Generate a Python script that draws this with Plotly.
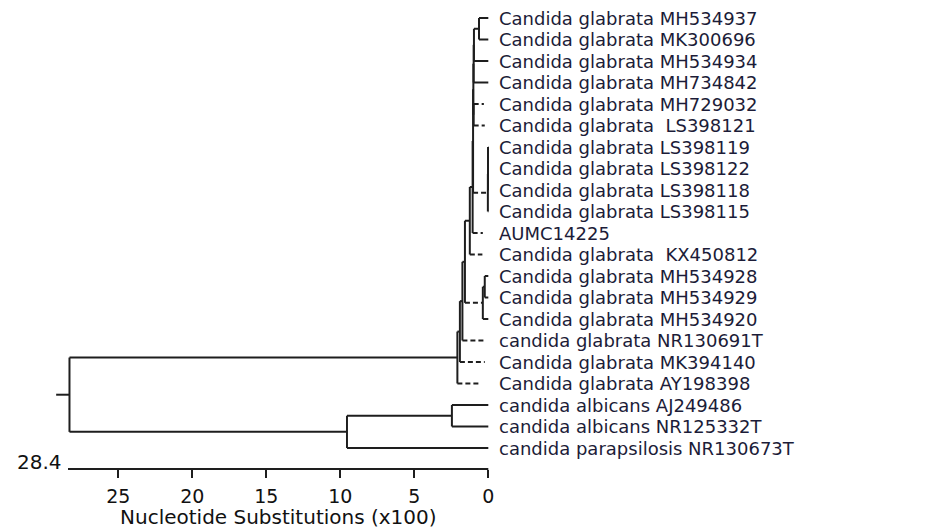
import plotly.graph_objects as go

# ---------------- data ----------------
labels = [
    "Candida glabrata MH534937", "Candida glabrata MK300696", "Candida glabrata MH534934",
    "Candida glabrata MH734842", "Candida glabrata MH729032", "Candida glabrata  LS398121",
    "Candida glabrata LS398119", "Candida glabrata LS398122", "Candida glabrata LS398118",
    "Candida glabrata LS398115", "AUMC14225", "Candida glabrata  KX450812",
    "Candida glabrata MH534928", "Candida glabrata MH534929", "Candida glabrata MH534920",
    "candida glabrata NR130691T", "Candida glabrata MK394140", "Candida glabrata AY198398",
    "candida albicans AJ249486", "candida albicans NR125332T", "candida parapsilosis NR130673T",
]
# where each tip branch ends (substitutions x100); dashed tips stop short of 0
tip_end = [0, 0, 0, 0, 0.30, 0.24, 0, 0, 0, 0, 0.37, 0.40, 0, 0, 0, 0.24, 0.24, 0.60, 0, 0, 0]
tip_dashed = [False, False, False, False, True, True, False, False, False, False, True, True,
              False, False, False, True, True, True, False, False, False]

# internal nodes (children listed before parents)
node_names = ["n1", "n2", "n3", "nB", "n4", "L1", "L2", "L3", "nR", "nY", "nX", "Mi", "M",
              "nW", "nU", "nZ", "nG", "nAlb", "nP", "root"]
node_x = [0.63, 0.97, 0.99, 0.99, 1.01, 0.02, 0.02, 0.03, 1.03, 1.06, 1.25, 0.24, 0.37,
          1.58, 1.75, 1.92, 2.09, 2.46, 9.55, 28.3]
node_children = [["t0", "t1"], ["n1", "t2"], ["n2", "t3"], ["t4", "t5"], ["n3", "nB"],
                 ["t6", "t7"], ["L1", "t8"], ["L2", "t9"], ["n4", "L3"], ["nR", "t10"],
                 ["nY", "t11"], ["t12", "t13"], ["Mi", "t14"], ["nX", "M"], ["nW", "t15"],
                 ["nU", "t16"], ["nZ", "t17"], ["t18", "t19"], ["nAlb", "t20"], ["nG", "nP"]]
dashed_nodes = ["L3", "M"]
root_stub = 29.2
scale_max = 28.4
tick_vals = [25, 20, 15, 10, 5, 0]
axis_title = "Nucleotide Substitutions (x100)"

# ---------------- layout of tree ----------------
pos = {}
for i, e in enumerate(tip_end):
    pos["t%d" % i] = (e, float(i))
for name, x, ch in zip(node_names, node_x, node_children):
    ys = [pos[c][1] for c in ch]
    pos[name] = (x, (ys[0] + ys[-1]) / 2)

solid_x, solid_y, dash_x, dash_y = [], [], [], []
for name, x, ch in zip(node_names, node_x, node_children):
    ys = [pos[c][1] for c in ch]
    solid_x += [x, x, None]
    solid_y += [min(ys), max(ys), None]
    for c in ch:
        cx, cy = pos[c]
        dashed = (c in dashed_nodes) or (c.startswith("t") and tip_dashed[int(c[1:])])
        if dashed:
            dash_x += [x, cx, None]
            dash_y += [cy, cy, None]
        else:
            solid_x += [x, cx, None]
            solid_y += [cy, cy, None]
rx, ry = pos["root"]
solid_x += [rx, root_stub, None]
solid_y += [ry, ry, None]

LINE = "#1e1e1e"
FONT = "DejaVu Sans"
fig = go.Figure()
fig.add_trace(go.Scatter(x=solid_x, y=solid_y, mode="lines",
                         line=dict(color=LINE, width=2), hoverinfo="skip"))
fig.add_trace(go.Scatter(x=dash_x, y=dash_y, mode="lines",
                         line=dict(color=LINE, width=2, dash="5px,3px"), hoverinfo="skip"))

for i, lab in enumerate(labels):
    fig.add_annotation(x=0, y=i, xref="x", yref="y", text=lab, showarrow=False,
                       xanchor="left", yanchor="middle", xshift=10, borderpad=0,
                       font=dict(family=FONT, size=18, color="#1c1c38"))

# scale bar / axis line
fig.add_shape(type="line", xref="x", yref="paper", x0=scale_max, x1=0, y0=0, y1=0,
              line=dict(color=LINE, width=2))
fig.add_annotation(x=scale_max, y=0, xref="x", yref="paper", text=str(scale_max),
                   showarrow=False, xanchor="right", yanchor="middle", xshift=-4, yshift=7,
                   font=dict(family=FONT, size=20, color="#111"))
fig.add_annotation(x=scale_max / 2, y=0, xref="x", yref="paper", text=axis_title,
                   showarrow=False, xanchor="center", yanchor="middle", yshift=-48,
                   font=dict(family=FONT, size=20, color="#111"))

# pixel geometry (the page body adds an 8px offset)
off = 8
px_per_unit = 14.8
left_px, zero_px, W, H = 68 - off, 488.3 - off, 928, 528
row0_px, row_step, bottom_px = 18 - off, 21.5, 469 - off
fig.update_layout(
    width=W, height=H, margin=dict(l=0, r=0, t=0, b=H - bottom_px),
    plot_bgcolor="white", paper_bgcolor="white", showlegend=False,
    xaxis=dict(range=[scale_max + left_px / px_per_unit, -(W - zero_px) / px_per_unit],
               showgrid=False, zeroline=False, showline=False,
               tickvals=tick_vals, ticktext=[str(t) for t in tick_vals],
               ticks="outside", ticklen=8, tickwidth=2, tickcolor=LINE,
               ticklabelstandoff=2, automargin=False,
               tickfont=dict(family=FONT, size=19, color="#111")),
    yaxis=dict(range=[(bottom_px - row0_px) / row_step, -row0_px / row_step],
               visible=False, showgrid=False, zeroline=False),
)
fig.write_html("out.html")
